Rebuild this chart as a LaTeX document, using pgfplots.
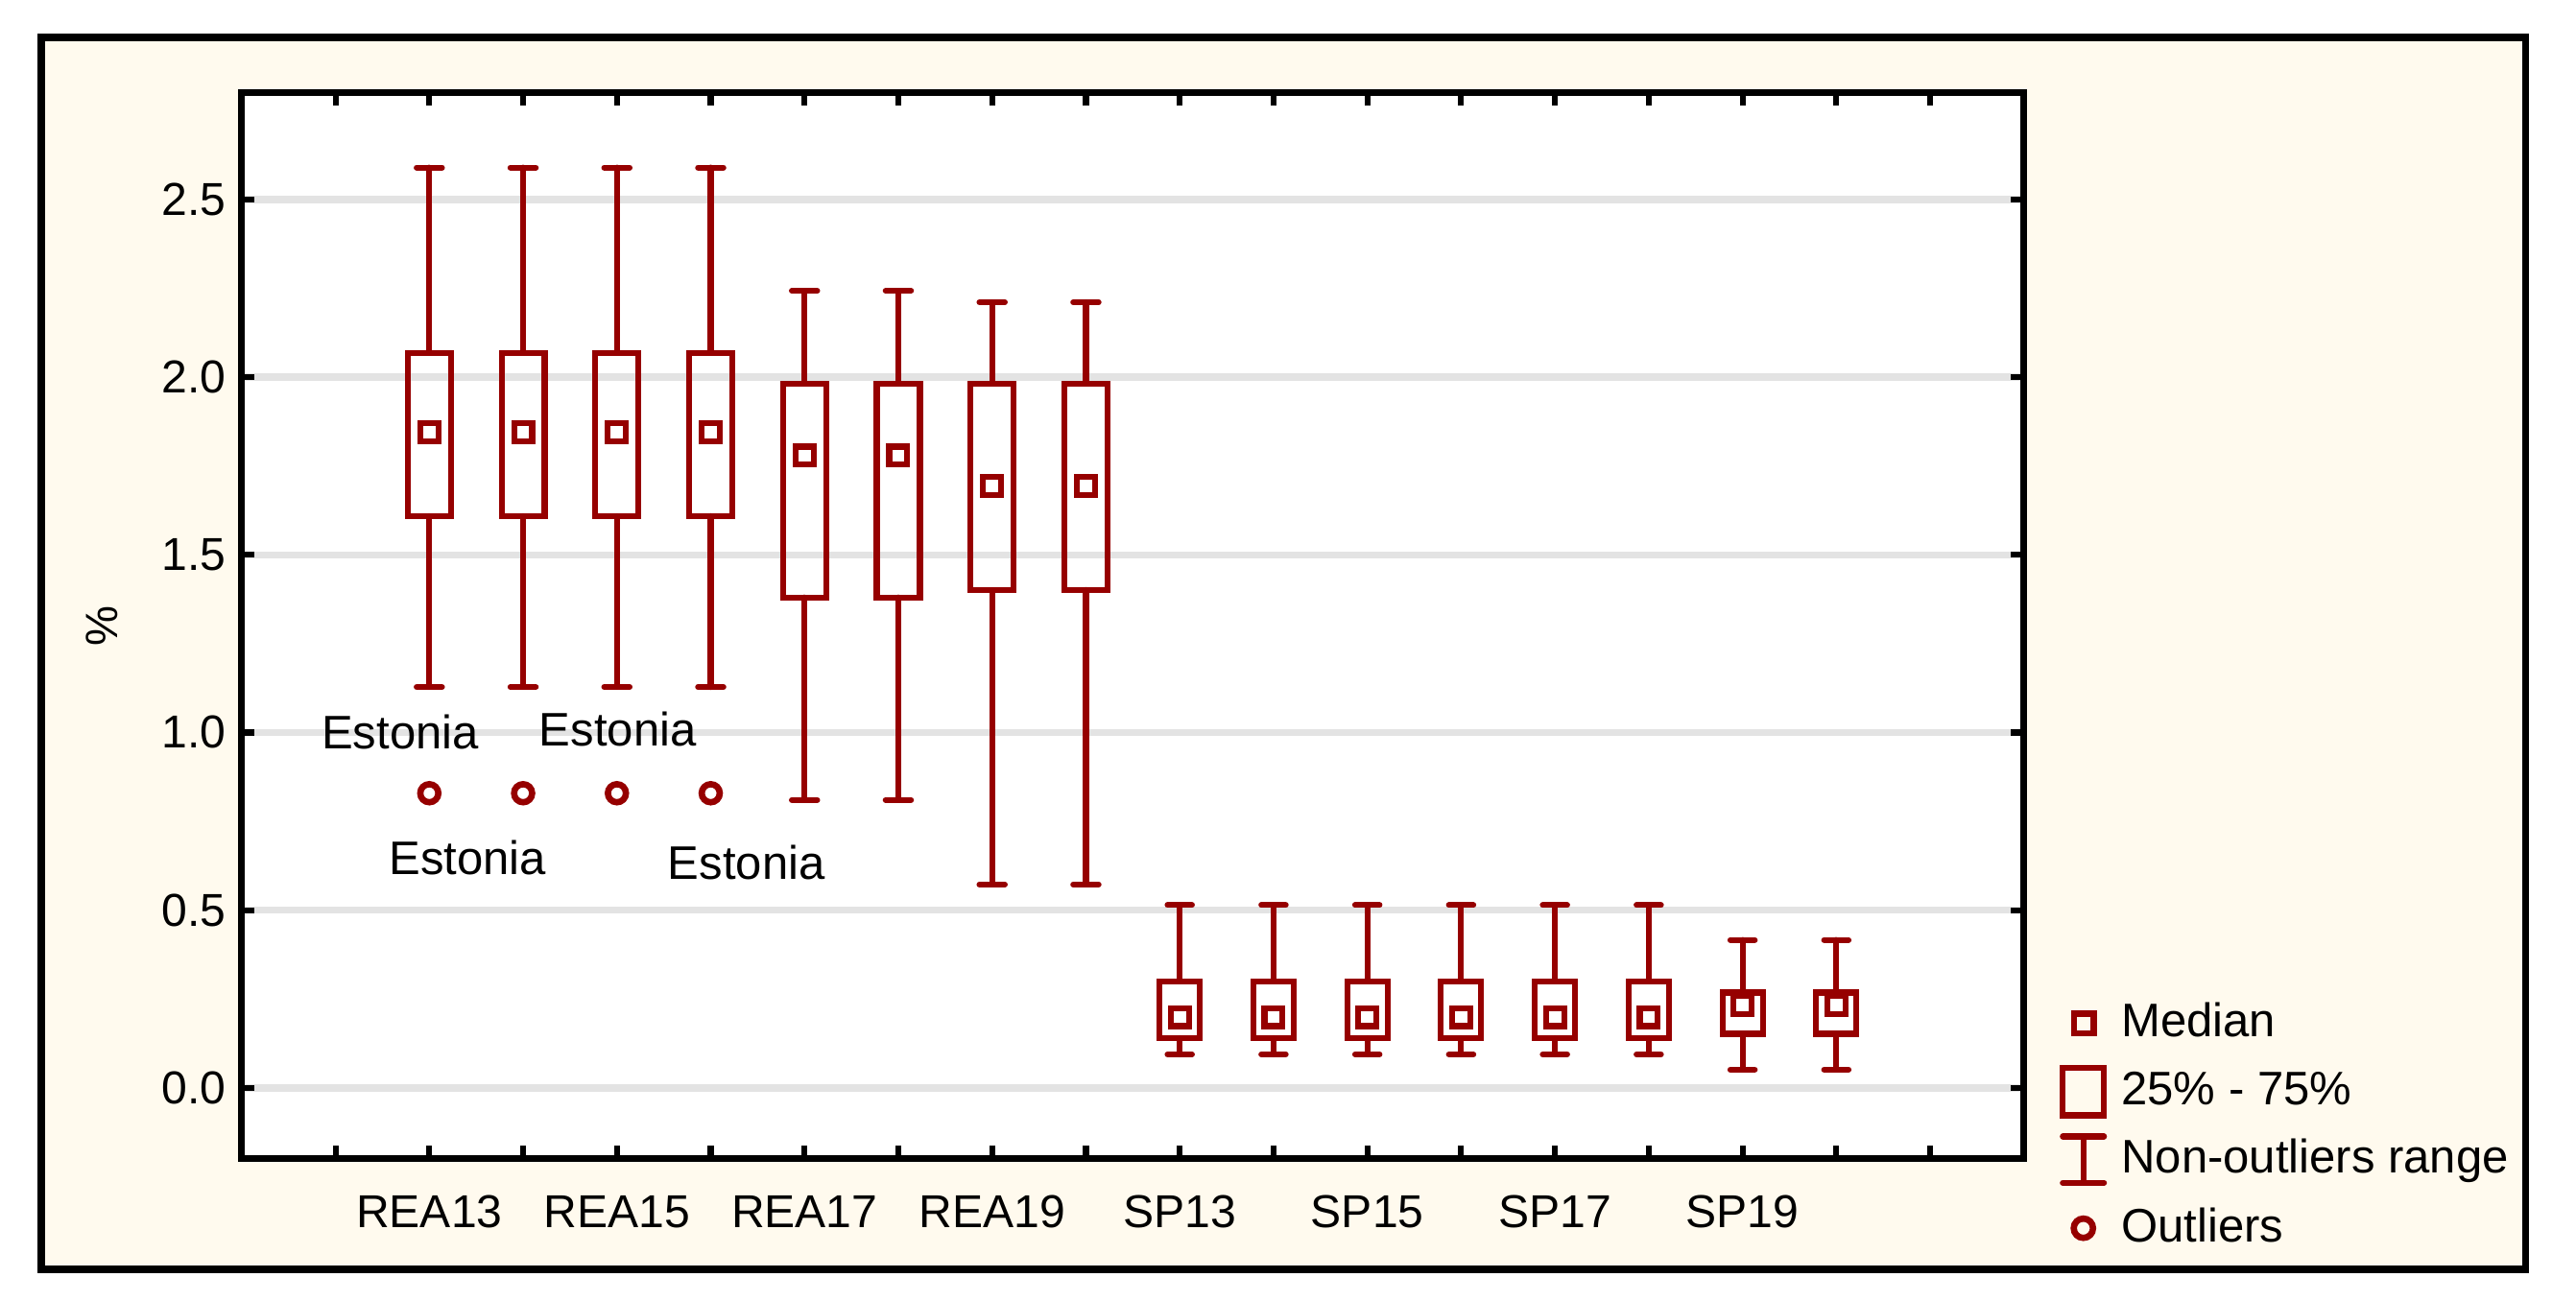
\documentclass[border=0pt]{standalone}
\usepackage{fontspec}
\setmainfont{Liberation Sans}
\usepackage{pgfplots}
\pgfplotsset{compat=1.18}
\usepgfplotslibrary{statistics}
\definecolor{boxred}{RGB}{150,0,0}
\definecolor{cream}{RGB}{255,250,238}
\definecolor{gridgray}{RGB}{227,227,227}
\begin{document}
\begin{tikzpicture}
% page and outer panel
\path (-1.877,-1.097) rectangle (18.127,9.002);
\draw[line width=1.6pt, fill=cream] (-1.557,-0.857) rectangle (17.737,8.712);
\begin{axis}[
    at={(0,0)}, anchor=south west,
    width=13.84cm, height=8.28cm, scale only axis,
    xmin=-1, xmax=18, ymin=-0.2, ymax=2.8,
    axis background/.style={fill=white},
    axis line style={line width=1.5pt},
    xtick={0,...,17},
    xticklabels={,REA13,,REA15,,REA17,,REA19,,SP13,,SP15,,SP17,,SP19,,},
    ytick={0,0.5,1,1.5,2,2.5},
    yticklabel style={/pgf/number format/.cd, fixed, fixed zerofill, precision=1},
    /pgf/number format/assume math mode=true,
    tick label style={font=\fontsize{10.2}{12}\selectfont},
    tick style={black, line width=1.3pt},
    major tick length=0.1cm,
    tick align=inside,
    xtick pos=both, ytick pos=both,
    xticklabel pos=bottom, yticklabel pos=left,
    xticklabel style={yshift=-0.16cm},
    ymajorgrids, grid style={gridgray, line width=1.6pt},
    ylabel={\%},
    ylabel style={yshift=0.1cm},
    boxplot/draw direction=y,
    boxplot/draw/median/.code={},
    legend style={at={(rel axis cs:1.012,0.162)}, anchor=north west,
        draw=none, fill=none, row sep=0.11cm, column sep=0.06cm,
        font=\fontsize{10.4}{12}\selectfont,
        nodes={inner sep=1.5pt}},
    legend cell align=left,
]
% boxes: REA13-REA20
\addplot[boxred, line width=1.3pt, line cap=round, forget plot, boxplot prepared={draw position=1, lower whisker=1.128, lower quartile=1.609, median=1.846, upper quartile=2.068, upper whisker=2.590, box extend=0.46, whisker extend=0.27}] coordinates {};
\addplot[boxred, line width=1.3pt, line cap=round, forget plot, boxplot prepared={draw position=2, lower whisker=1.128, lower quartile=1.609, median=1.846, upper quartile=2.068, upper whisker=2.590, box extend=0.46, whisker extend=0.27}] coordinates {};
\addplot[boxred, line width=1.3pt, line cap=round, forget plot, boxplot prepared={draw position=3, lower whisker=1.128, lower quartile=1.609, median=1.846, upper quartile=2.068, upper whisker=2.590, box extend=0.46, whisker extend=0.27}] coordinates {};
\addplot[boxred, line width=1.3pt, line cap=round, forget plot, boxplot prepared={draw position=4, lower whisker=1.128, lower quartile=1.609, median=1.846, upper quartile=2.068, upper whisker=2.590, box extend=0.46, whisker extend=0.27}] coordinates {};
\addplot[boxred, line width=1.3pt, line cap=round, forget plot, boxplot prepared={draw position=5, lower whisker=0.810, lower quartile=1.380, median=1.779, upper quartile=1.982, upper whisker=2.243, box extend=0.46, whisker extend=0.27}] coordinates {};
\addplot[boxred, line width=1.3pt, line cap=round, forget plot, boxplot prepared={draw position=6, lower whisker=0.810, lower quartile=1.380, median=1.779, upper quartile=1.982, upper whisker=2.243, box extend=0.46, whisker extend=0.27}] coordinates {};
\addplot[boxred, line width=1.3pt, line cap=round, forget plot, boxplot prepared={draw position=7, lower whisker=0.572, lower quartile=1.401, median=1.693, upper quartile=1.982, upper whisker=2.211, box extend=0.46, whisker extend=0.27}] coordinates {};
\addplot[boxred, line width=1.3pt, line cap=round, forget plot, boxplot prepared={draw position=8, lower whisker=0.572, lower quartile=1.401, median=1.693, upper quartile=1.982, upper whisker=2.211, box extend=0.46, whisker extend=0.27}] coordinates {};
% boxes: SP13-SP20
\addplot[boxred, line width=1.3pt, line cap=round, forget plot, boxplot prepared={draw position=9, lower whisker=0.094, lower quartile=0.140, median=0.199, upper quartile=0.300, upper whisker=0.514, box extend=0.43, whisker extend=0.26}] coordinates {};
\addplot[boxred, line width=1.3pt, line cap=round, forget plot, boxplot prepared={draw position=10, lower whisker=0.094, lower quartile=0.140, median=0.199, upper quartile=0.300, upper whisker=0.514, box extend=0.43, whisker extend=0.26}] coordinates {};
\addplot[boxred, line width=1.3pt, line cap=round, forget plot, boxplot prepared={draw position=11, lower whisker=0.094, lower quartile=0.140, median=0.199, upper quartile=0.300, upper whisker=0.514, box extend=0.43, whisker extend=0.26}] coordinates {};
\addplot[boxred, line width=1.3pt, line cap=round, forget plot, boxplot prepared={draw position=12, lower whisker=0.094, lower quartile=0.140, median=0.199, upper quartile=0.300, upper whisker=0.514, box extend=0.43, whisker extend=0.26}] coordinates {};
\addplot[boxred, line width=1.3pt, line cap=round, forget plot, boxplot prepared={draw position=13, lower whisker=0.094, lower quartile=0.140, median=0.199, upper quartile=0.300, upper whisker=0.514, box extend=0.43, whisker extend=0.26}] coordinates {};
\addplot[boxred, line width=1.3pt, line cap=round, forget plot, boxplot prepared={draw position=14, lower whisker=0.094, lower quartile=0.140, median=0.199, upper quartile=0.300, upper whisker=0.514, box extend=0.43, whisker extend=0.26}] coordinates {};
\addplot[boxred, line width=1.3pt, line cap=round, forget plot, boxplot prepared={draw position=15, lower whisker=0.051, lower quartile=0.152, median=0.232, upper quartile=0.268, upper whisker=0.416, box extend=0.43, whisker extend=0.26}] coordinates {};
\addplot[boxred, line width=1.3pt, line cap=round, forget plot, boxplot prepared={draw position=16, lower whisker=0.051, lower quartile=0.152, median=0.232, upper quartile=0.268, upper whisker=0.416, box extend=0.43, whisker extend=0.26}] coordinates {};
% medians
\addplot[only marks, forget plot, mark=square, mark size=2pt, boxred, mark options={line width=1.3pt}] coordinates {
(1,1.846) (2,1.846) (3,1.846) (4,1.846) (5,1.779) (6,1.779) (7,1.693) (8,1.693)
(9,0.199) (10,0.199) (11,0.199) (12,0.199) (13,0.199) (14,0.199) (15,0.232) (16,0.232)};
% outliers
\addplot[only marks, forget plot, mark=o, mark size=2pt, boxred, mark options={line width=1.4pt}] coordinates {
(1,0.829) (2,0.829) (3,0.829) (4,0.829)};
\node[font=\fontsize{10.4}{12}\selectfont] at (axis cs:0.69,1.00) {Estonia};
\node[font=\fontsize{10.4}{12}\selectfont] at (axis cs:1.41,0.647) {Estonia};
\node[font=\fontsize{10.4}{12}\selectfont] at (axis cs:3.01,1.009) {Estonia};
\node[font=\fontsize{10.4}{12}\selectfont] at (axis cs:4.38,0.635) {Estonia};
% legend
\addlegendimage{legend image code/.code={\draw[boxred, line width=1.3pt] (0.09cm,-0.075cm) rectangle (0.24cm,0.075cm);}}
\addlegendentry{Median}
\addlegendimage{legend image code/.code={\draw[boxred, line width=1.3pt] (0cm,-0.185cm) rectangle (0.32cm,0.185cm);}}
\addlegendentry{25\% - 75\%}
\addlegendimage{legend image code/.code={\draw[boxred, line width=1.3pt, line cap=round] (0.16cm,-0.18cm) -- (0.16cm,0.18cm) (0cm,0.18cm) -- (0.32cm,0.18cm) (0cm,-0.18cm) -- (0.32cm,-0.18cm);}}
\addlegendentry{Non-outliers range}
\addlegendimage{legend image code/.code={\draw[boxred, line width=1.4pt] (0.16cm,0cm) circle (0.075cm);}}
\addlegendentry{Outliers}
\end{axis}
\end{tikzpicture}
\end{document}
